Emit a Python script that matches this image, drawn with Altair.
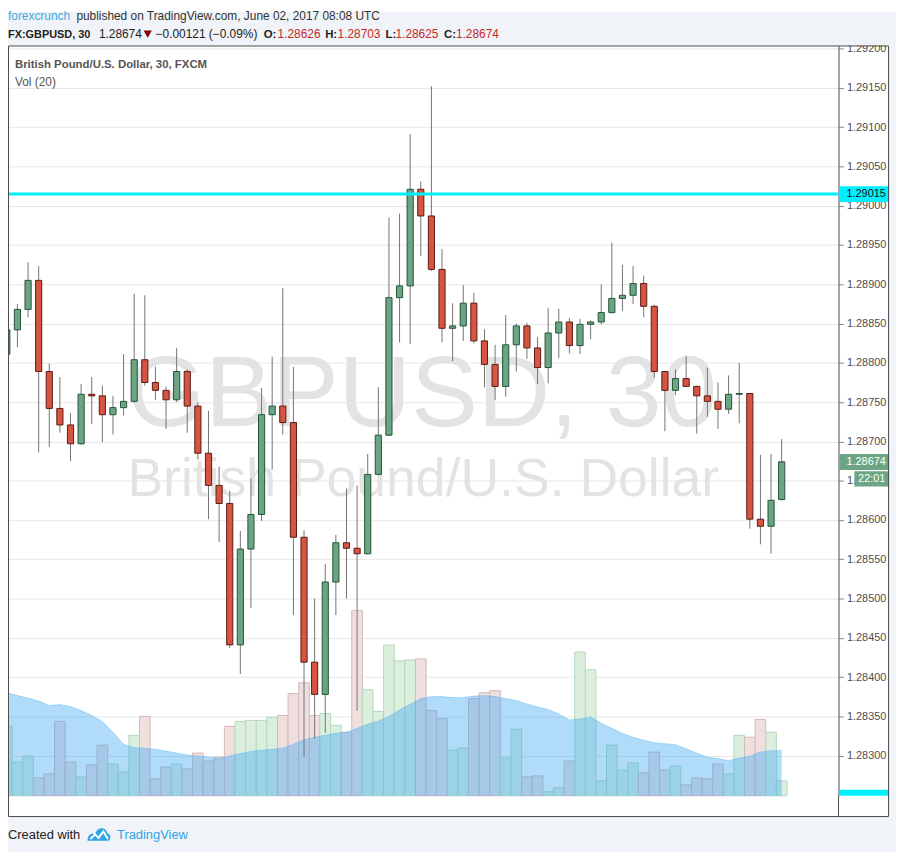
import altair as alt
import pandas as pd

# ---------------- data (30-minute GBPUSD bars, index 0 = Jun 1 00:00 UTC) ----------------
bar_index = list(range(-9, 65))

opens = [1.28811, 1.28842, 1.28868, 1.28905, 1.28789, 1.28742, 1.28721, 1.28697, 1.28760,
         1.28758, 1.28734, 1.28743, 1.28751, 1.28804, 1.28775, 1.28765, 1.28753, 1.28789, 1.28745,
         1.28685, 1.28644, 1.28621, 1.28441, 1.28563, 1.28607, 1.28734, 1.28745, 1.28724, 1.28578,
         1.28419, 1.28378, 1.28521, 1.28571, 1.28564, 1.28557, 1.28658, 1.28708, 1.28883, 1.28898,
         1.29021, 1.28987, 1.28919, 1.28844, 1.28847, 1.28876, 1.28828, 1.28798, 1.28770, 1.28823,
         1.28847, 1.28819, 1.28794, 1.28838, 1.28852, 1.28822, 1.28849, 1.28852, 1.28864, 1.28882,
         1.28886, 1.28901, 1.28872, 1.28789, 1.28765, 1.28780, 1.28770, 1.28758, 1.28751, 1.28741,
         1.28760, 1.28761, 1.28601, 1.28592, 1.28626]
highs = [1.28862, 1.28875, 1.28928, 1.28923, 1.28799, 1.28782, 1.28736, 1.28773, 1.28782,
         1.28771, 1.28758, 1.28811, 1.28888, 1.28886, 1.28795, 1.28770, 1.28819, 1.28792, 1.28750,
         1.28739, 1.28668, 1.28637, 1.28586, 1.28653, 1.28768, 1.28808, 1.28895, 1.28795, 1.28587,
         1.28500, 1.28544, 1.28581, 1.28640, 1.28644, 1.28684, 1.28769, 1.28985, 1.28990, 1.29091,
         1.29031, 1.29152, 1.28945, 1.28876, 1.28899, 1.28889, 1.28843, 1.28823, 1.28861, 1.28850,
         1.28851, 1.28833, 1.28870, 1.28869, 1.28857, 1.28856, 1.28854, 1.28900, 1.28953, 1.28925,
         1.28923, 1.28911, 1.28874, 1.28789, 1.28792, 1.28809, 1.28771, 1.28794, 1.28775, 1.28784,
         1.28800, 1.28761, 1.28683, 1.28684, 1.28703]
lows = [1.28795, 1.28820, 1.28858, 1.28686, 1.28693, 1.28711, 1.28675, 1.28696, 1.28722,
        1.28699, 1.28709, 1.28733, 1.28749, 1.28771, 1.28753, 1.28716, 1.28750, 1.28711, 1.28677,
        1.28601, 1.28572, 1.28437, 1.28404, 1.28488, 1.28599, 1.28664, 1.28709, 1.28479, 1.28298,
        1.28322, 1.28329, 1.28479, 1.28500, 1.28357, 1.28556, 1.28657, 1.28707, 1.28826, 1.28824,
        1.28936, 1.28917, 1.28826, 1.28802, 1.28828, 1.28825, 1.28769, 1.28753, 1.28757, 1.28789,
        1.28805, 1.28773, 1.28774, 1.28806, 1.28812, 1.28811, 1.28830, 1.28849, 1.28863, 1.28866,
        1.28875, 1.28858, 1.28781, 1.28713, 1.28759, 1.28770, 1.28710, 1.28731, 1.28716, 1.28735,
        1.28723, 1.28589, 1.28569, 1.28557, 1.28625]
closes = [1.28842, 1.28868, 1.28905, 1.28789, 1.28742, 1.28721, 1.28697, 1.28760, 1.28758,
          1.28734, 1.28743, 1.28751, 1.28804, 1.28775, 1.28765, 1.28753, 1.28789, 1.28745, 1.28685,
          1.28644, 1.28621, 1.28441, 1.28563, 1.28607, 1.28734, 1.28745, 1.28724, 1.28578, 1.28419,
          1.28378, 1.28521, 1.28571, 1.28564, 1.28557, 1.28658, 1.28708, 1.28883, 1.28898, 1.29021,
          1.28987, 1.28919, 1.28844, 1.28847, 1.28876, 1.28828, 1.28798, 1.28770, 1.28823, 1.28847,
          1.28819, 1.28794, 1.28838, 1.28852, 1.28822, 1.28849, 1.28852, 1.28864, 1.28882, 1.28886,
          1.28901, 1.28872, 1.28789, 1.28765, 1.28780, 1.28770, 1.28758, 1.28751, 1.28741, 1.28760,
          1.28761, 1.28601, 1.28592, 1.28625, 1.28674]
# volume in relative units, and its 20-bar moving average
volumes = [70, 34, 40, 18, 22, 75, 34, 19, 31,
           51, 32, 24, 61, 80, 17, 29, 32, 27, 43,
           35, 39, 70, 75, 76, 76, 79, 81, 103, 114,
           81, 83, 71, 64, 187, 107, 85, 152, 136, 137,
           138, 86, 78, 46, 48, 98, 104, 106, 38, 67,
           19, 20, 4, 8, 35, 145, 127, 15, 51, 26,
           33, 23, 44, 26, 30, 11, 18, 17, 32, 22,
           61, 59, 77, 64, 15]
volume_ma20 = [104, 101, 98.5, 95.5, 91, 92, 90, 86, 81,
               75, 64, 52, 48.5, 48, 47, 45, 43, 41, 40,
               39, 37.5, 40, 42.5, 44.7, 46, 47, 48, 52, 56.5,
               59, 61, 63, 64, 68, 72, 75.5, 80, 86.5, 92,
               98, 100, 100, 99, 99, 100.5, 101, 100, 98, 96,
               92.5, 89.5, 87, 82.5, 76.5, 77.5, 79.7, 73, 68, 63,
               59, 56, 53.5, 52.5, 51.5, 47.5, 43, 38.7, 37.5, 35.3,
               38, 40, 44, 45.5, 45.7]

x_tick_index = [0, 12, 24, 36, 48, 60, 68]
x_tick_labels = ["Jun", "06:00", "12:00", "18:00", "2", "06:00", "10:00"]
price_ticks = [1.2830, 1.2835, 1.2840, 1.2845, 1.2850, 1.2855, 1.2860, 1.2865, 1.2870,
               1.2875, 1.2880, 1.2885, 1.2890, 1.2895, 1.2900, 1.2905, 1.2910, 1.2915, 1.2920]
resistance_level = [1.29015]

# ---------------- layout ----------------
W, H = 838, 757
PRICE_DOMAIN = [1.28249, 1.29204]
X_DOMAIN = [-8.889, 69.356]
VOL_DOMAIN = [0, 757]
FONT = "Liberation Sans"

GREEN_FILL, GREEN_LINE = "#6ba583", "#225437"
RED_FILL, RED_LINE = "#d75442", "#5b1a13"
BG = "#f0f3f7"
UP = "datum.close >= datum.open"

df = pd.DataFrame({"i": bar_index, "open": opens, "high": highs, "low": lows,
                   "close": closes, "vol": volumes, "ma": volume_ma20})

xscale = alt.Scale(domain=X_DOMAIN, nice=False, zero=False)
pscale = alt.Scale(domain=PRICE_DOMAIN, nice=False, zero=False)
vscale = alt.Scale(domain=VOL_DOMAIN, nice=False)

label_expr = "".join(f"datum.value == {v} ? '{l}' : " for v, l in zip(x_tick_index, x_tick_labels)) + "''"

x_axis = alt.Axis(values=x_tick_index, labelExpr=label_expr, grid=True, gridColor="#e6e6e6",
                  domainColor="#4a4a4a", tickColor="#8a8a8a", tickSize=3, labelColor="#4d4d4d",
                  labelFontSize=11, labelFont=FONT, labelPadding=4, labelFlush=False,
                  labelOverlap=False, title=None)
y_axis = alt.Axis(orient="right", values=price_ticks, format=".5f", grid=True, gridColor="#e6e6e6",
                  domainColor="#4a4a4a", tickColor="#8a8a8a", tickSize=5, labelColor="#4d4d4d",
                  labelFontSize=11, labelFont=FONT, labelPadding=3, labelFlush=False,
                  labelOverlap=False, title=None)

base = alt.Chart(df)


def text_layer(t, x, y, size=12, color="#333333", weight="normal", align="left",
               baseline="alphabetic"):
    return alt.Chart(pd.DataFrame({"t": [t]})).mark_text(
        align=align, baseline=baseline, fontSize=size, color=color, fontWeight=weight, font=FONT
    ).encode(text="t:N", x=alt.value(x), y=alt.value(y))


def rect_layer(x, x2, y, y2, fill, stroke="", sw=0, fill_opacity=1.0):
    kw = dict(fill=fill, fillOpacity=fill_opacity)
    if stroke:
        kw.update(stroke=stroke, strokeWidth=sw)
    return alt.Chart(pd.DataFrame({"a": [0]})).mark_rect(**kw).encode(
        x=alt.value(x), x2=alt.value(x2), y=alt.value(y), y2=alt.value(y2))


# page background strips outside the chart box
bg_top = rect_layer(0, 896, -34, 0, BG)
bg_right = rect_layer(889, 896, 0, 778, BG)
bg_bottom = rect_layer(0, 896, 778, 814, BG)

# watermark
wm1 = text_layer("GBPUSD, 30", 418, 384, size=101, color="#e3e3e3", align="center")
wm2 = text_layer("British Pound/U.S. Dollar", 419, 455, size=54, color="#e3e3e3", align="center")

# volume bars
vol_bars = base.transform_calculate(
    vx1="datum.i - 0.5", vx2="datum.i + 0.5", zero="0"
).mark_rect(strokeWidth=1).encode(
    x=alt.X("vx1:Q", scale=xscale, axis=None),
    x2="vx2:Q",
    y=alt.Y("vol:Q", scale=vscale, axis=None),
    y2="zero:Q",
    fill=alt.condition(UP, alt.value("#dcefdf"), alt.value("#efdfdf")),
    stroke=alt.condition(UP, alt.value("#b3d8ba"), alt.value("#d6b8b8")),
)
vol_area = base.mark_area(color="#3aa8f2", opacity=0.4).encode(
    x=alt.X("i:Q", scale=xscale, axis=None),
    y=alt.Y("ma:Q", scale=vscale, axis=None),
)
vol_line = base.mark_line(color="#3aa8f2", opacity=0.35, strokeWidth=1).encode(
    x=alt.X("i:Q", scale=xscale, axis=None),
    y=alt.Y("ma:Q", scale=vscale, axis=None),
)

# candles
wicks = base.mark_rule(color="#737375", strokeWidth=1).encode(
    x=alt.X("i:Q", scale=xscale, axis=x_axis),
    y=alt.Y("low:Q", scale=pscale, axis=y_axis),
    y2="high:Q",
)
bodies = base.transform_calculate(
    bx1="datum.i - 0.29", bx2="datum.i + 0.29"
).mark_rect(strokeWidth=1).encode(
    x=alt.X("bx1:Q", scale=xscale, axis=None),
    x2="bx2:Q",
    y=alt.Y("open:Q", scale=pscale, axis=None),
    y2="close:Q",
    fill=alt.condition(UP, alt.value(GREEN_FILL), alt.value(RED_FILL)),
    stroke=alt.condition(UP, alt.value(GREEN_LINE), alt.value(RED_LINE)),
)

level_line = alt.Chart(pd.DataFrame({"level": resistance_level})).mark_rule(
    color="#00f0ff", strokeWidth=3
).encode(y=alt.Y("level:Q", scale=pscale, axis=None))

# right-axis badges
badge_cyan = rect_layer(839, 889, 142, 158, "#00f0ff")
badge_cyan_t = text_layer("1.29015", 846, 150, size=11, color="#111111", baseline="middle")
badge_last = rect_layer(839, 889, 412.3, 428.3, GREEN_FILL)
badge_last_t = text_layer("1.28674", 846, 420.3, size=11, color="#ffffff", baseline="middle")
badge_timer = rect_layer(854, 889, 429.5, 445, GREEN_FILL)
badge_timer_t = text_layer("22:01", 871.5, 437.5, size=11, color="#ffffff", align="center", baseline="middle")
badge_bottom = rect_layer(839, 889, 751, 757, "#00f0ff")

# header
RED_TXT = "#c62828"
hdr = [
    text_layer("forexcrunch", 0, -25.5, color="#3aa9e0"),
    text_layer("published on TradingView.com, June 02, 2017 08:08 UTC", 69, -25.5, color="#333333"),
    text_layer("FX:GBPUSD, 30", 0, -7.5, size=11, color="#222222", weight="bold"),
    text_layer("1.28674", 91.7, -7.5, color="#222222"),
    text_layer("−0.00121 (−0.09%)", 149, -7.5, color="#222222"),
    text_layer("O:", 258, -7.5, size=11.5, color="#222222", weight="bold"),
    text_layer("1.28626", 272, -7.5, color=RED_TXT),
    text_layer("H:", 320, -7.5, size=11.5, color="#222222", weight="bold"),
    text_layer("1.28703", 332.5, -7.5, color=RED_TXT),
    text_layer("L:", 381, -7.5, size=11.5, color="#222222", weight="bold"),
    text_layer("1.28625", 391, -7.5, color=RED_TXT),
    text_layer("C:", 440, -7.5, size=11.5, color="#222222", weight="bold"),
    text_layer("1.28674", 452, -7.5, color=RED_TXT),
]
tri = alt.Chart(pd.DataFrame({"a": [0]})).mark_point(
    shape="triangle-down", filled=True, color="#8b0000", size=70, opacity=1
).encode(x=alt.value(141), y=alt.value(-11.5))

legend1 = text_layer("British Pound/U.S. Dollar, 30, FXCM", 7, 23, size=11.5, color="#555555", weight="bold")
legend2 = text_layer("Vol (20)", 7, 41, size=12, color="#555555")

# footer
foot1 = text_layer("Created with", 0, 800.5, size=13, color="#222222")
logo = alt.Chart(pd.DataFrame({"a": [0]})).mark_point(
    shape="M-1,0.55 C-1,0.05 -0.65,-0.15 -0.35,0 C-0.2,-0.65 0.55,-0.7 0.7,-0.1 C1.05,-0.05 1.05,0.55 0.7,0.55 Z",
    filled=True, color="#2fa4e7", size=560, opacity=1
).encode(x=alt.value(92), y=alt.value(796))
logo_wave = alt.Chart(pd.DataFrame({"a": [0]})).mark_point(
    shape="M-0.75,0.4 L-0.35,0.0 L-0.05,0.3 L0.35,-0.25 L0.75,0.4",
    filled=False, stroke="#ffffff", strokeWidth=2, size=560, opacity=1
).encode(x=alt.value(92), y=alt.value(796))
foot2 = text_layer("TradingView", 110, 800.5, size=13, color="#2fa4e7")

# chart box outline
outline = alt.Chart(pd.DataFrame({"a": [0]})).mark_rect(
    fillOpacity=0, stroke="#4a4a4a", strokeWidth=1
).encode(x=alt.value(0.5), x2=alt.value(888.5), y=alt.value(0.5), y2=alt.value(778))
axis_ext = alt.Chart(pd.DataFrame({"a": [0]})).mark_rule(color="#4a4a4a", strokeWidth=1).encode(
    x=alt.value(838), y=alt.value(757), y2=alt.value(778))

layers = [bg_top, bg_right, bg_bottom, wm1, wm2, vol_bars, vol_area, vol_line, wicks, bodies,
          level_line, badge_cyan, badge_cyan_t, badge_last, badge_last_t, badge_timer,
          badge_timer_t, badge_bottom] + hdr + [tri, legend1, legend2, foot1, logo, logo_wave,
                                                 foot2, outline, axis_ext]

chart = alt.layer(*layers).resolve_scale(y="independent").properties(
    width=W, height=H,
    autosize=alt.AutoSizeParams(type="none"),
    padding={"left": 0, "top": 34, "right": 58, "bottom": 57},
).configure(background="#ffffff").configure_view(strokeWidth=0)

chart.save("out.html", embed_options={"renderer": "svg", "actions": False})
